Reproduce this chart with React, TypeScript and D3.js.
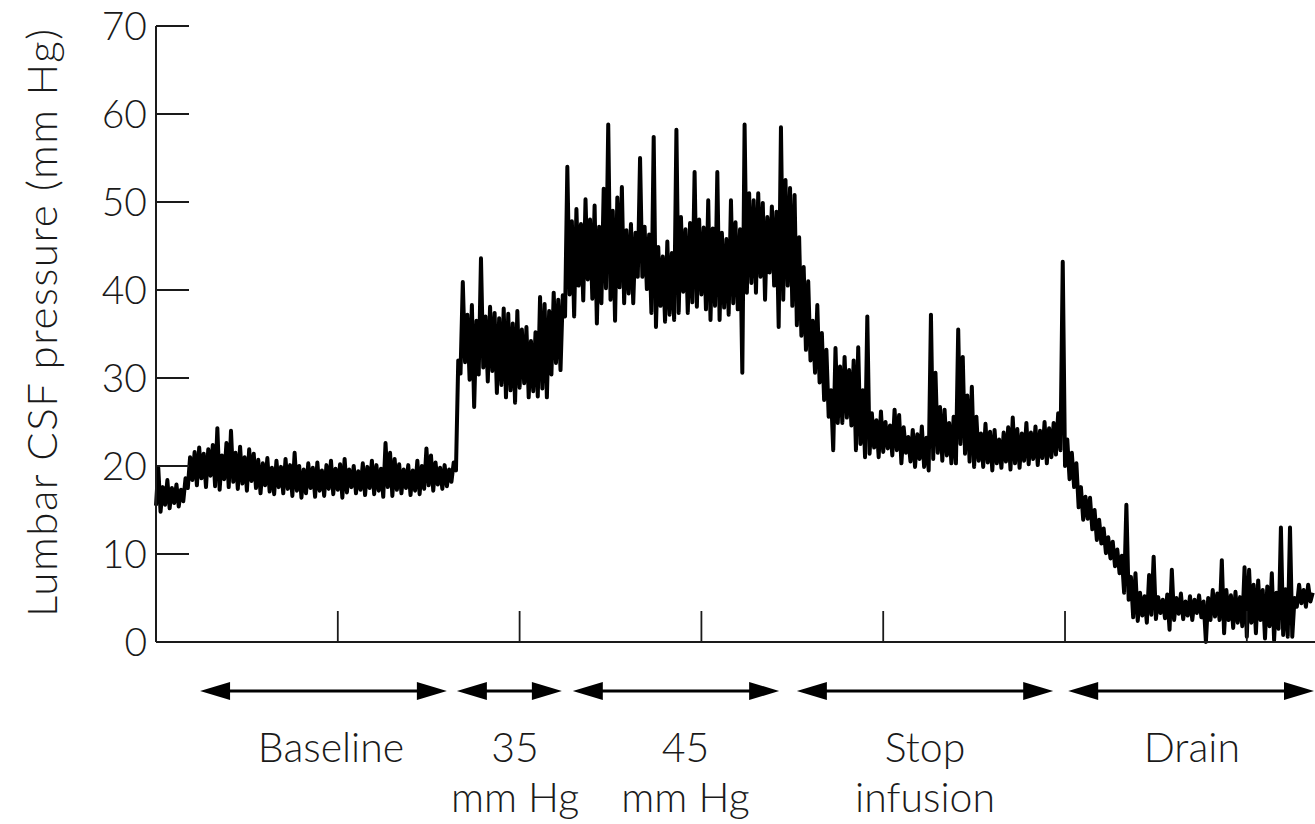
import React from "react";
import * as d3 from "d3";

const W = 1315;
const H = 824;

// y axis (mm Hg) ticks
const yTicks = [0, 10, 20, 30, 40, 50, 60, 70];
// x axis: samples (15 s each), unlabeled ticks every 40 samples (10 min)
const xTicks = [40, 80, 120, 160, 200, 240];

// per-sample minimum of the pressure trace (mm Hg)
const troughs = [
  15.5, 14.8, 15.6, 15.2, 15.8, 15.4, 16.0, 17.5, 18.4, 17.8,
  18.6, 17.6, 18.9, 17.7, 17.3, 18.5, 17.6, 18.2, 17.4, 18.0,
  17.2, 18.3, 17.5, 16.9, 17.8, 17.1, 16.8, 17.6, 16.9, 17.4,
  16.6, 17.2, 16.4, 16.9, 17.5, 16.5, 17.2, 16.6, 17.4, 16.8,
  17.3, 16.4, 17.0, 17.6, 16.9, 17.3, 16.7, 17.5, 16.8, 17.2,
  16.5, 17.6, 16.6, 17.3, 16.9, 17.5, 16.7, 17.2, 16.8, 17.4,
  17.8, 17.2, 17.9, 17.4, 17.7, 18.2, 19.5, 30.5, 31.8, 29.8,
  26.7, 30.4, 31.2, 29.6, 30.8, 28.3, 29.2, 27.8, 28.6, 27.2,
  28.9, 29.4, 27.8, 28.5, 27.9, 28.8, 27.8, 30.4, 31.7, 30.9,
  37.0, 39.5, 37.0, 40.5, 38.8, 41.2, 39.0, 36.2, 38.5, 40.2,
  38.9, 36.5, 40.3, 38.5, 39.6, 38.5, 41.5, 41.5, 40.1, 37.4,
  35.8, 38.2, 36.4, 37.2, 36.6, 37.4, 39.8, 37.4, 38.6, 38.1,
  39.5, 37.8, 36.6, 38.2, 36.6, 38.0, 37.2, 38.5, 37.8, 30.6,
  39.7, 40.8, 39.7, 41.5, 38.9, 42.0, 40.5, 35.8, 38.9, 40.5,
  38.2, 36.0, 34.8, 33.2, 32.0, 30.6, 29.5, 27.5, 25.6, 21.8,
  24.9, 24.9, 25.5, 24.6, 21.8, 22.5, 21.0, 21.4, 22.1, 21.0,
  21.6, 22.0, 21.2, 21.8, 20.3, 21.5, 20.5, 19.9, 20.8, 19.9,
  19.5, 20.8, 21.5, 20.6, 21.2, 20.3, 20.3, 22.5, 21.4, 20.5,
  19.9, 20.6, 19.9, 20.4, 19.5, 20.3, 19.8, 20.5, 19.6, 20.3,
  19.8, 20.6, 20.2, 20.8, 20.1, 20.9, 20.3, 21.0, 21.3, 21.8,
  20.0, 18.5, 17.6, 15.3, 13.9, 14.0, 12.8, 11.6, 11.2, 10.1,
  9.5, 8.6, 7.8, 5.6, 4.8, 2.8, 2.4, 3.0, 2.2, 3.1,
  2.6, 3.3, 2.7, 1.4, 2.5, 3.2, 2.6, 3.0, 2.5, 3.3,
  2.8, 0.0, 2.5, 2.9, 2.5, 1.0, 2.5, 1.6, 2.2, 1.8,
  0.6, 2.2, 1.0, 2.5, 0.4, 1.8, 0.2, 1.5, 0.8, 0.6,
  0.6, 4.0, 4.4, 4.0, 4.6,
];

// per-sample maximum of the pressure trace (mm Hg)
const peaks = [
  19.8, 17.6, 18.4, 17.5, 17.9, 17.3, 18.6, 21.0, 21.6, 22.1,
  21.4, 21.9, 22.4, 24.3, 21.2, 22.6, 24.0, 21.5, 22.2, 21.0,
  21.9, 21.4, 20.7, 20.3, 20.9, 19.8, 20.6, 19.9, 20.8, 20.1,
  21.5, 20.0, 19.6, 20.3, 19.8, 20.4, 19.5, 20.1, 20.6, 19.7,
  20.2, 20.8, 19.6, 20.0, 19.4, 20.3, 19.9, 20.6, 20.1, 19.7,
  22.6, 21.5, 20.8, 20.2, 19.6, 20.1, 19.5, 20.6, 20.0, 22.0,
  21.2, 20.4, 19.8, 20.1, 19.6, 20.4, 32.0, 40.9, 37.2, 38.3,
  36.5, 43.6, 37.0, 38.1, 37.4, 36.8, 37.9, 37.3, 36.2, 37.6,
  35.5, 35.8, 34.2, 35.2, 39.2, 38.4, 37.6, 39.7, 38.9, 39.4,
  54.0, 47.8, 49.2, 47.5, 50.3, 48.0, 49.6, 47.2, 51.5, 58.8,
  49.0, 50.5, 51.7, 46.8, 47.5, 46.5, 55.0, 47.2, 46.3, 57.4,
  44.9, 43.8, 45.5, 44.2, 58.2, 48.3, 46.9, 47.6, 53.4, 48.0,
  47.1, 50.2, 47.0, 53.4, 46.5, 45.8, 50.2, 47.7, 46.9, 58.8,
  51.0, 50.2, 51.0, 49.9, 48.3, 49.5, 48.9, 58.5, 52.5, 51.6,
  50.8, 46.0, 42.6, 41.0, 36.5, 38.3, 35.1, 33.2, 28.6, 33.4,
  31.3, 32.4, 30.9, 32.0, 33.5, 28.6, 37.0, 26.0, 25.2, 26.2,
  25.0, 24.6, 26.4, 25.8, 24.4, 23.3, 24.1, 23.6, 24.5, 23.2,
  37.2, 30.6, 26.7, 26.4, 24.9, 25.6, 35.5, 32.4, 28.0, 29.0,
  25.6, 23.7, 24.8, 23.9, 24.1, 23.0, 23.8, 24.4, 25.5, 24.2,
  23.7, 24.9, 23.8, 24.5, 24.0, 25.0, 24.3, 24.9, 26.0, 43.2,
  23.0, 21.5, 20.3, 17.6, 16.5, 16.4, 15.0, 13.9, 12.9, 11.9,
  11.4, 10.5, 9.8, 15.6, 7.4, 7.8, 5.6, 5.2, 7.6, 9.7,
  5.1, 4.8, 5.4, 8.2, 5.0, 5.5, 4.6, 5.2, 4.8, 5.3,
  4.6, 5.0, 5.9, 5.5, 9.3, 5.9, 5.3, 5.7, 5.1, 8.5,
  8.2, 6.5, 7.0, 5.9, 6.3, 7.8, 5.6, 13.0, 6.0, 13.0,
  5.0, 6.5, 5.9, 6.5, 5.6,
];

// experimental phases (in samples)
const phaseNames = [["Baseline"], ["35", "mm Hg"], ["45", "mm Hg"], ["Stop", "infusion"], ["Drain"]];
const phaseStart = [9.7, 66.2, 91.7, 141, 200.7];
const phaseEnd = [64, 89.3, 137.1, 197.4, 255];
const phaseLabelAt = [38.5, 79, 116.5, 169.2, 227.9];

const FONT = "Lato, 'Noto Sans', sans-serif";
const INK = "#1a1a1a";

export default function App() {
  const x = d3.scaleLinear().domain([0, 255]).range([156, 1315]);
  const y = d3.scaleLinear().domain([0, 70]).range([642, 26]);

  const pts: [number, number][] = [];
  troughs.forEach((lo, i) => {
    pts.push([i, lo]);
    pts.push([i + 0.5, peaks[i]]);
  });
  const line = d3
    .line<[number, number]>()
    .x((d) => x(d[0]))
    .y((d) => y(d[1]));

  const arrowY = 691;
  const headL = 30;
  const headH = 9;

  return (
    <svg
      width={W}
      height={H}
      style={{ position: "absolute", left: 0, top: 0, background: "#fff" }}
      fontFamily={FONT}
      fontWeight={300}
    >
      {/* trace */}
      <path d={line(pts) || ""} fill="none" stroke="#000" strokeWidth={4} strokeLinejoin="round" />

      {/* axes */}
      <line x1={x(0)} x2={x(0)} y1={y(70)} y2={y(0)} stroke={INK} strokeWidth={2} />
      <line x1={x(0)} x2={x(255)} y1={y(0)} y2={y(0)} stroke={INK} strokeWidth={2} />
      {yTicks.map((t) => (
        <g key={t}>
          <line x1={x(0)} x2={x(0) + 33} y1={y(t)} y2={y(t)} stroke={INK} strokeWidth={1.8} />
          <text x={147} y={y(t)} dy="0.36em" textAnchor="end" fontSize={39} fill={INK}>
            {t}
          </text>
        </g>
      ))}
      {xTicks.map((t) => (
        <line key={t} x1={x(t)} x2={x(t)} y1={y(0)} y2={y(0) - 31} stroke={INK} strokeWidth={1.8} />
      ))}
      <text
        transform={`translate(57, 323) rotate(-90)`}
        textAnchor="middle"
        fontSize={42}
        textLength={588}
        lengthAdjust="spacing"
        fill={INK}
      >
        Lumbar CSF pressure (mm Hg)
      </text>

      {/* phase arrows */}
      {phaseNames.map((names, k) => {
        const a = x(phaseStart[k]);
        const b = Math.min(x(phaseEnd[k]), W - 1);
        const cx = x(phaseLabelAt[k]);
        return (
          <g key={k}>
            <line x1={a + headL - 2} x2={b - headL + 2} y1={arrowY} y2={arrowY} stroke="#000" strokeWidth={3.2} />
            <path d={`M${a},${arrowY} L${a + headL},${arrowY - headH} L${a + headL},${arrowY + headH} Z`} fill="#000" />
            <path d={`M${b},${arrowY} L${b - headL},${arrowY - headH} L${b - headL},${arrowY + headH} Z`} fill="#000" />
            {names.map((n, j) => (
              <text key={j} x={cx} y={762 + j * 50} textAnchor="middle" fontSize={41} fill={INK}>
                {n}
              </text>
            ))}
          </g>
        );
      })}
    </svg>
  );
}
